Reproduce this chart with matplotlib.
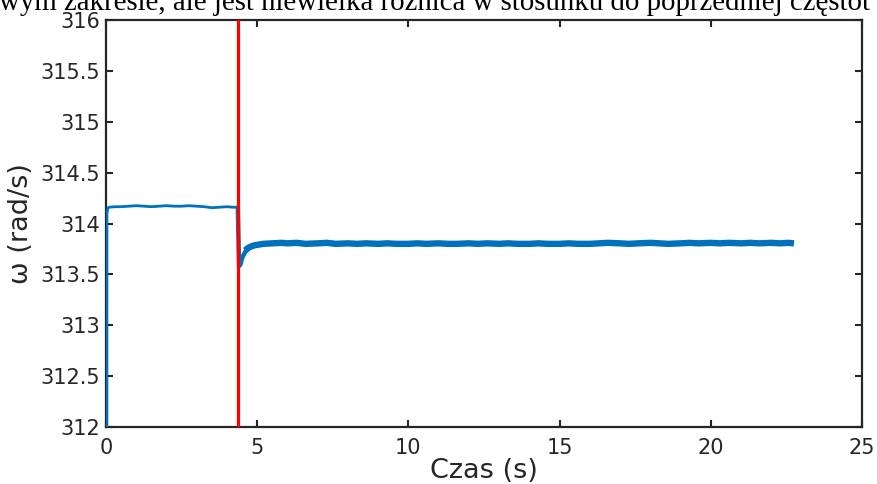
import matplotlib
matplotlib.use("Agg")
import matplotlib.pyplot as plt

# ---- data ----
t_pre = [0.03, 0.03, 0.06, 0.1, 0.3, 0.5, 0.75, 1.0, 1.25, 1.5, 1.75, 2.0, 2.25, 2.5,
         2.75, 3.0, 3.25, 3.5, 3.75, 4.0, 4.2, 4.36]
w_pre = [311.9, 314.10, 314.15, 314.16, 314.165, 314.165, 314.17, 314.175, 314.17,
         314.165, 314.17, 314.175, 314.17, 314.17, 314.175, 314.17, 314.165,
         314.155, 314.16, 314.165, 314.16, 314.16]

t_dip = [4.36, 4.40, 4.45, 4.50, 4.60, 4.70, 4.80]
w_dip = [314.16, 313.58, 313.60, 313.66, 313.72, 313.75, 313.77]

t_post = [4.6, 4.7, 4.8, 4.9, 5.0, 5.2, 5.5, 5.8, 6.0, 6.3, 6.6, 7.0, 7.3, 7.6, 8.0,
          8.3, 8.6, 9.0, 9.3, 9.6, 10.0, 10.3, 10.6, 11.0, 11.3, 11.6, 12.0, 12.3,
          12.6, 13.0, 13.3, 13.6, 14.0, 14.3, 14.6, 15.0, 15.3, 15.6, 16.0, 16.3,
          16.6, 17.0, 17.3, 17.6, 18.0, 18.3, 18.6, 19.0, 19.3, 19.6, 20.0, 20.3,
          20.6, 21.0, 21.3, 21.6, 22.0, 22.3, 22.55, 22.75]
w_post = [313.735, 313.76, 313.775, 313.785, 313.79, 313.80, 313.805, 313.81,
          313.805, 313.81, 313.80, 313.805, 313.81, 313.80, 313.805, 313.80, 313.805,
          313.80, 313.805, 313.80, 313.80, 313.805, 313.80, 313.805, 313.80, 313.80,
          313.805, 313.80, 313.805, 313.80, 313.805, 313.80, 313.80, 313.805, 313.80,
          313.80, 313.805, 313.80, 313.80, 313.805, 313.81, 313.805, 313.80, 313.805,
          313.81, 313.805, 313.80, 313.805, 313.81, 313.805, 313.81, 313.805, 313.81,
          313.805, 313.81, 313.805, 313.81, 313.805, 313.81, 313.805]

t_event = 4.38

xticks = [0, 5, 10, 15, 20, 25]
yticks = [312, 312.5, 313, 313.5, 314, 314.5, 315, 315.5, 316]
ytick_labels = ["312", "312.5", "313", "313.5", "314", "314.5", "315", "315.5", "316"]

caption = "wym zakresie, ale jest niewielka różnica w stosunku do poprzedniej częstot"

# ---- figure ----
W, H, DPI = 878, 484, 100
fig = plt.figure(figsize=(W / DPI, H / DPI), dpi=DPI)
ax = fig.add_axes([106 / W, 1 - 427 / H, (862 - 106) / W, (427 - 20) / H])

blue = "#0072BD"
ax.plot(t_pre, w_pre, color=blue, lw=2.0, solid_joinstyle="round",
        solid_capstyle="round", zorder=3)
ax.plot(t_dip, w_dip, color=blue, lw=3.2, solid_joinstyle="round",
        solid_capstyle="round", zorder=3)
ax.plot(t_post, w_post, color=blue, lw=4.6, solid_joinstyle="round",
        solid_capstyle="butt", zorder=3)
ax.axvline(t_event, color="#FF0000", lw=2.3, zorder=4)

ax.set_xlim(0, 25)
ax.set_ylim(312, 316)
ax.set_xticks(xticks)
ax.set_yticks(yticks)
ax.set_yticklabels(ytick_labels)

tc = "#262626"
ax.tick_params(direction="in", length=5, width=1.5, top=True, right=True,
               labelsize=15, colors=tc)
ax.tick_params(axis="x", pad=8)
ax.tick_params(axis="y", pad=4)
for s in ax.spines.values():
    s.set_linewidth(1.6)
    s.set_color(tc)
ax.set_xlabel("Czas (s)", fontsize=19.5, color=tc)
ax.xaxis.set_label_coords(0.5, -(471 - 427) / 407)
ax.xaxis.label.set_va("center")
ax.set_ylabel("ω (rad/s)", fontsize=19.5, color=tc)
ax.yaxis.set_label_coords((21 - 106) / 756, 0.5)
ax.yaxis.label.set_va("center")

# clipped caption line at the top
txt = fig.text(-1 / W, 1 - 9.5 / H, caption, family="Liberation Serif",
               fontsize=20, color="black", ha="left", va="baseline")
fig.canvas.draw()
wpx = txt.get_window_extent().width
txt.set_fontsize(20 * 872 / wpx)

fig.savefig("out.png", dpi=DPI)
